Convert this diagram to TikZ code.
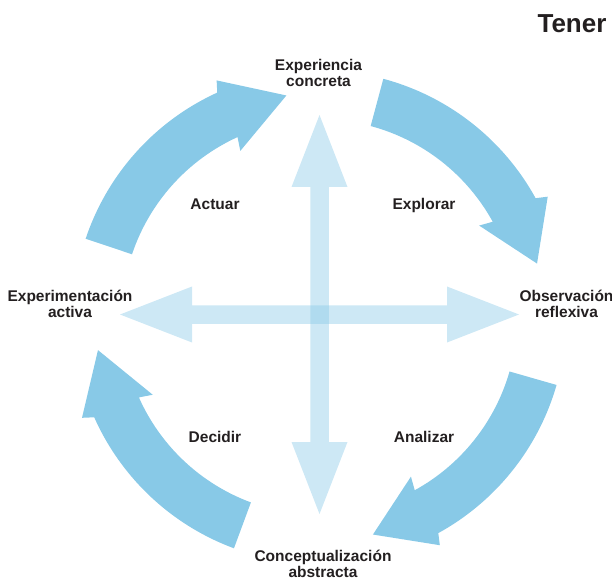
\documentclass[tikz,border=0pt]{standalone}
\usepackage{fontspec}
\setmainfont{Liberation Sans}
\usepackage{tikz}
\usetikzlibrary{calc}

\definecolor{cycleblue}{HTML}{88C9E7}
\definecolor{inkblack}{HTML}{231F20}

% one bent block arrow of the ring: tail angle, head base angle, tip angle
\newcommand{\cyclearrow}[3]{%
  \fill[loopArrow] (#1:197.7pt) arc[start angle=#1, end angle=#2, radius=197.7pt]
    -- ({#2+1}:184pt) -- (#3:224pt) -- ({#2-1}:258pt) -- (#2:246.6pt)
    arc[start angle=#2, end angle=#1, radius=246.6pt] -- cycle;}

\begin{document}
\begin{tikzpicture}[x=1pt, y=1pt]

  \tikzstyle{stage}      = [align=center, inner sep=0pt, text=inkblack, font={\bfseries\fontsize{15.5}{16}\selectfont}];
  \tikzstyle{action}     = [anchor=base, inner sep=0pt, text=inkblack, font={\bfseries\fontsize{15.5}{16}\selectfont}];
  \tikzstyle{heading}    = [anchor=base, inner sep=0pt, text=inkblack, font={\bfseries\fontsize{26}{28}\selectfont}];
  \tikzstyle{loopArrow}  = [fill=cycleblue];
  \tikzstyle{crossArrow} = [fill=cycleblue, fill opacity=0.42];

  \useasboundingbox (0,0) rectangle (612,584);

  \coordinate (hub)  at (319.5,269.5);
  \coordinate (ring) at (319.5,267);

  % the two axes
  \begin{scope}[shift={(hub)}]
    \fill[crossArrow] (-199.5,0) -- (-127.5,28) -- (-127.5,9.25) -- (127.5,9.25) -- (127.5,28)
      -- (199.5,0) -- (127.5,-28) -- (127.5,-9.25) -- (-127.5,-9.25) -- (-127.5,-28) -- cycle;
    \fill[crossArrow, rotate=90] (-199.5,0) -- (-127.5,28) -- (-127.5,9.25) -- (127.5,9.25) -- (127.5,28)
      -- (199.5,0) -- (127.5,-28) -- (127.5,-9.25) -- (-127.5,-9.25) -- (-127.5,-28) -- cycle;
  \end{scope}

  % the cycle
  \begin{scope}[shift={(ring)}]
    \cyclearrow{75}{28.8}{13.8}
    \cyclearrow{161.5}{114.5}{98.5}
    \cyclearrow{249.7}{204}{188.5}
    \cyclearrow{344}{298.8}{283.8}
  \end{scope}

  \node [heading] (tener) at (572,551.7) {Tener};

  \node [stage] (concreta)     at (318.5,510.7) {Experiencia\\concreta};
  \node [stage] (reflexiva)    at (566.5,280.5) {Observación\\reflexiva};
  \node [stage] (abstracta)    at (323,20)      {Conceptualización\\abstracta};
  \node [stage] (activa)       at (70,280.5)    {Experimentación\\activa};

  \node [action] (actuar)   at (215,374)   {Actuar};
  \node [action] (explorar) at (424,374)   {Explorar};
  \node [action] (decidir)  at (215,141.3) {Decidir};
  \node [action] (analizar) at (424,141.3) {Analizar};

\end{tikzpicture}
\end{document}
